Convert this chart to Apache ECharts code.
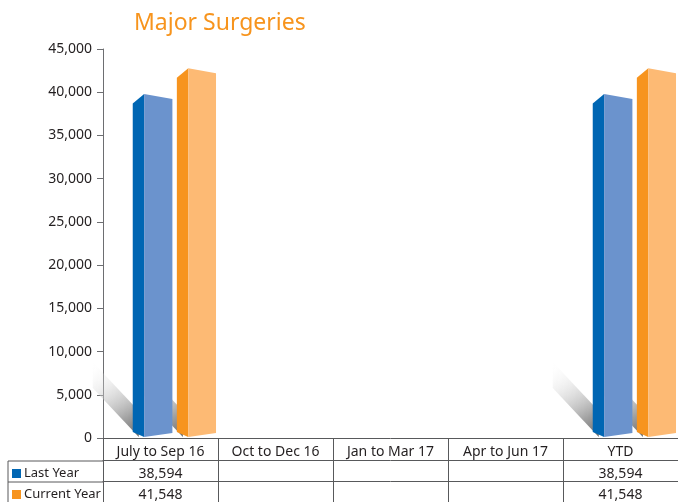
<!DOCTYPE html>
<html lang="en">
<head>
  <meta charset="UTF-8">
  <title>Major Surgeries</title>
  <script src="https://cdn.jsdelivr.net/npm/echarts@6/dist/echarts.min.js"></script>
  <style>
    html, body { margin: 0; padding: 0; background: #fff; }
    #chart { width: 678px; height: 502px; }
  </style>
</head>
<body>
  <div id="chart"></div>
  <script>
    const categories = ['July to Sep 16', 'Oct to Dec 16', 'Jan to Mar 17', 'Apr to Jun 17', 'YTD']
    const seriesNames = ['Last Year', 'Current Year']
    const lastYear = [38594, null, null, null, 38594]
    const currentYear = [41548, null, null, null, 41548]
    const yMin = 0
    const yMax = 45000
    const yStep = 5000

    const font = 'Noto Sans'
    const ink = '#231f20'
    const rule = '#58595b'
    // bar geometry in px for a 116px wide category band: side start, side end/front start, front end
    const offsets = [[-28, -16.5, 12], [16.5, 28, 56]]
    const colors = [
      {side: '#0066b3', front: '#6b93cd'},
      {side: '#f7941e', front: '#fdba74'}
    ]

    const fmt = v => v == null ? '' : v.toLocaleString('en-US')
    const toData = arr => arr.map((v, i) => v == null ? null : [i, v]).filter(d => d)

    function bar(s) {
      return (params, api) => {
        const c = api.coord([api.value(0), api.value(1)])
        const b = api.coord([api.value(0), 0])
        const k = api.size([1, 0])[0] / 116
        const x0 = c[0] + offsets[s][0] * k
        const x1 = c[0] + offsets[s][1] * k
        const x2 = c[0] + offsets[s][2] * k
        const yv = c[1], y0 = b[1]
        return {
          type: 'group',
          children: [
            {type: 'polygon', shape: {points: [[x0, yv - 1], [x1, yv - 10.5], [x1, y0 - 1], [x0, y0 - 6]]},
              style: {fill: colors[s].side}},
            {type: 'polygon', shape: {points: [[x1, yv - 10.5], [x2, yv - 5.5], [x2, y0 - 5], [x1, y0 - 1]]},
              style: {fill: colors[s].front}}
          ]
        }
      }
    }

    // soft ground shadow falling to the upper left of each bar
    function shadow(params, api) {
      const s = api.value(2)
      const b = api.coord([api.value(0), 0])
      const k = api.size([1, 0])[0] / 116
      const x0 = b[0] + offsets[s][0] * k
      const y0 = b[1]
      return {
        type: 'polygon',
        shape: {points: [[x0 + 6, y0 - 1], [x0 - 40, y0 - 50], [x0 - 40, y0 - 76], [x0 + 6, y0 - 27]]},
        style: {
          fill: new echarts.graphic.LinearGradient(1, 1, 0, 0, [
            {offset: 0, color: 'rgba(105,105,105,1)'},
            {offset: 0.25, color: 'rgba(150,150,150,0.9)'},
            {offset: 1, color: 'rgba(255,255,255,0)'}
          ])
        }
      }
    }

    const shadowData = toData(lastYear).map(d => [d[0], d[1], 0])
      .concat(toData(currentYear).map(d => [d[0], d[1], 1]))

    const tableAxis = (data, offset) => ({
      type: 'category',
      data: data.map(fmt),
      position: 'bottom',
      offset,
      axisLine: {show: true, lineStyle: {color: rule}},
      axisTick: {show: true, length: 21, lineStyle: {color: rule}},
      axisLabel: {fontSize: 14, color: ink, fontFamily: font, margin: 7, interval: 0}
    })

    // legend cells of the data table
    const legendCells = seriesNames.map((name, i) => ({
      type: 'group',
      left: 12,
      top: 467 + i * 21,
      children: [
        {type: 'rect', shape: {x: 0, y: 0, width: 9, height: 9}, style: {fill: colors[i].side}},
        {type: 'text', x: 12, y: 4.5, style: {text: name, fill: ink, fontSize: 13, fontFamily: font,
          verticalAlign: 'middle'}}
      ]
    }))

    let chart = echarts.init(document.querySelector('#chart'))
    chart.setOption({
      animation: false,
      title: {
        text: 'Major Surgeries',
        left: 129,
        top: 7,
        textStyle: {color: '#f7941d', fontSize: 23, fontWeight: 'normal', fontFamily: font}
      },
      grid: {left: 103, top: 49, width: 580, height: 390},
      xAxis: [
        {
          type: 'category',
          data: categories,
          axisLine: {show: true, lineStyle: {color: rule}},
          axisTick: {show: true, length: 22, lineStyle: {color: rule}},
          axisLabel: {fontSize: 14, color: ink, fontFamily: font, margin: 7, interval: 0}
        },
        tableAxis(lastYear, 22),
        tableAxis(currentYear, 43)
      ],
      yAxis: {
        type: 'value',
        min: yMin,
        max: yMax,
        interval: yStep,
        axisLine: {show: true, lineStyle: {color: '#6d6e71'}},
        axisTick: {show: true, length: 6, lineStyle: {color: '#6d6e71'}},
        splitLine: {show: false},
        axisLabel: {fontSize: 14, color: ink, fontFamily: font, margin: 11, formatter: fmt}
      },
      graphic: [
        {type: 'line', shape: {x1: 8, y1: 461, x2: 103, y2: 461}, style: {stroke: rule}},
        {type: 'line', shape: {x1: 8, y1: 482, x2: 103, y2: 482}, style: {stroke: rule}},
        {type: 'line', shape: {x1: 8, y1: 461, x2: 8, y2: 502}, style: {stroke: rule}}
      ].concat(legendCells),
      series: [
        {type: 'custom', name: 'shadow', z: 1, silent: true, renderItem: shadow, data: shadowData},
        {type: 'custom', name: seriesNames[0], z: 2, renderItem: bar(0), data: toData(lastYear)},
        {type: 'custom', name: seriesNames[1], z: 2, renderItem: bar(1), data: toData(currentYear)}
      ]
    })
  </script>
</body>
</html>
